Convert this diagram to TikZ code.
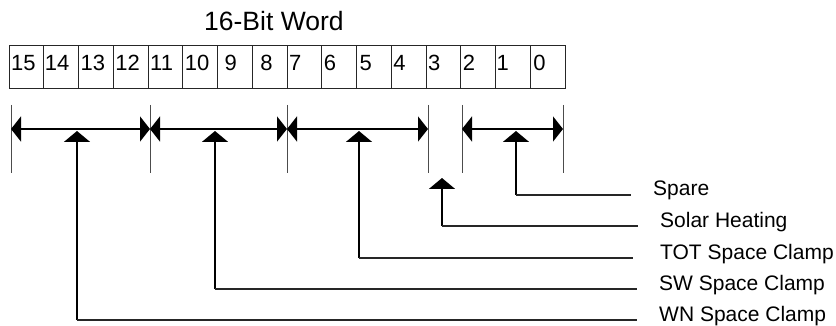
\documentclass[tikz,border=0pt]{standalone}
\usepackage{fontspec}
\setmainfont{Liberation Sans}
\usetikzlibrary{arrows.meta,calc}
\begin{document}
\begin{tikzpicture}[x=1pt,y=-1pt,
  cell/.style={draw=black!85, line width=0.9pt, minimum width=34.75pt,
    minimum height=43pt, inner sep=0pt, outer sep=0pt},
  digit/.style={anchor=base west, inner sep=0pt, font=\fontsize{22}{22}\selectfont},
  title/.style={anchor=base west, inner sep=0pt, font=\fontsize{26.5}{26.5}\selectfont},
  fieldname/.style={anchor=base west, inner sep=0pt, font=\fontsize{21}{21}\selectfont},
  tick/.style={draw=black!70, line width=0.9pt},
  span/.style={line width=1.8pt,
    {Triangle[length=10pt,width=25pt]}-{Triangle[length=10pt,width=25pt]}},
  feed/.style={line width=1.9pt, -{Triangle[length=11pt,width=26pt]}},
  lead/.style={draw=black!85, line width=1.3pt, shorten >=22pt}]
\useasboundingbox (0,0) rectangle (836,326);

% title
\node[title] (ttl) at (204,30.5) {16-Bit Word};

% the sixteen bit cells, bit 15 on the left
\foreach \i in {0,...,15}{
  \pgfmathtruncatemacro\bit{15-\i}
  \node[cell] (b\bit) at ({9+34.75*(\i+0.5)},66.5) {};
}
\foreach \bit/\pad in {15/2,14/1,13/2,12/2,11/2,10/2,9/7,8/8,
                       7/2,6/2,5/3,4/2,3/2,2/2,1/1,0/3}{
  \node[digit] (d\bit) at ($(b\bit.west)+(\pad,4)$) {\bit};
}

% field boundary ticks
\foreach \n/\x in {A/11,B/150,C/287,D/428,E/462,F/563}{
  \coordinate (t\n) at (\x,105);
  \coordinate (s\n) at (\x,129);
  \draw[tick] (t\n) -- ++(0,68);
}

% field extents
\draw[span] (sA) -- (sB);
\draw[span] (sB) -- (sC);
\draw[span] (sC) -- (sD);
\draw[span] (sE) -- (sF);

% field names
\node[fieldname] (spare) at (653,196) {Spare};
\node[fieldname] (solar) at (660,227) {Solar Heating};
\node[fieldname] (tot)   at (660,259) {TOT Space Clamp};
\node[fieldname] (sw)    at (659,290) {SW Space Clamp};
\node[fieldname] (wn)    at (659,321) {WN Space Clamp};

% corners and arrow tips of the leaders
\coordinate (kSpare) at (516,195);  \coordinate (hSpare) at (516,131);
\coordinate (kSolar) at (442,226);  \coordinate (hSolar) at (442,178);
\coordinate (kTot)   at (359,258);  \coordinate (hTot)   at (359,131);
\coordinate (kSw)    at (215,289);  \coordinate (hSw)    at (215,131);
\coordinate (kWn)    at (77,320);   \coordinate (hWn)    at (77,131);

\draw[feed] (kSpare) -- (hSpare);
\draw[feed] (kSolar) -- (hSolar);
\draw[feed] (kTot) -- (hTot);
\draw[feed] (kSw) -- (hSw);
\draw[feed] (kWn) -- (hWn);

\draw[lead] (kSpare) -- (kSpare -| spare.west);
\draw[lead] (kSolar) -- (kSolar -| solar.west);
\draw[lead, shorten >=27pt] (kTot) -- (kTot -| tot.west);
\draw[lead] (kSw) -- (kSw -| sw.west);
\draw[lead] (kWn) -- (kWn -| wn.west);
\end{tikzpicture}
\end{document}
